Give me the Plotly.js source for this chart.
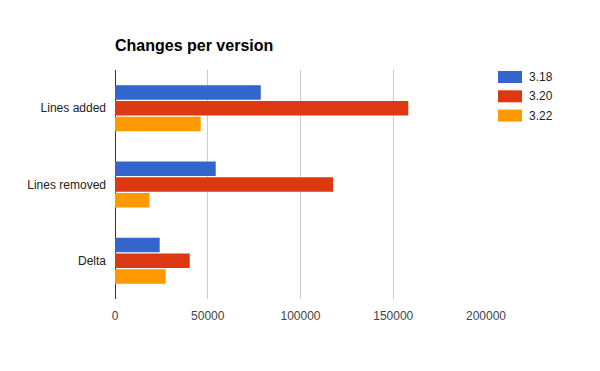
<!DOCTYPE html>
<html>
<head>
<meta charset="utf-8">
<script src="https://cdn.plot.ly/plotly-3.0.1.min.js"></script>
<style>html,body{margin:0;padding:0;background:#fff;}#chart{width:600px;height:371px;}</style>
</head>
<body>
<div id="chart"></div>
<script>
const categories = ["Lines added", "Lines removed", "Delta"];
const seriesNames = ["3.18", "3.20", "3.22"];
const v318 = [78600, 54300, 24100];
const v320 = [158100, 117600, 40300];
const v322 = [46200, 18600, 27300];
const colors = ["#3366cc", "#dc3912", "#ff9900"];
const xTicks = [0, 50000, 100000, 150000, 200000];

const seriesValues = [v318, v320, v322];
const traces = seriesValues.map((vals, i) => ({
  type: "bar",
  orientation: "h",
  name: seriesNames[i],
  y: categories,
  x: vals,
  marker: {color: colors[i]},
  hoverinfo: "none"
}));

const font = {family: "Liberation Sans, Arial, sans-serif", size: 12, color: "#222"};
const shapes = [];
const annotations = [];
const rowStep = 19.3 / 229;
seriesNames.forEach((n, i) => {
  const top = (299 - 71) / 229 - i * rowStep;
  const bot = (299 - 83) / 229 - i * rowStep;
  shapes.push({type: "rect", xref: "paper", yref: "paper",
    x0: (498 - 115) / 371, x1: (522 - 115) / 371, y0: bot, y1: top,
    fillcolor: colors[i], line: {width: 0}});
  annotations.push({xref: "paper", yref: "paper", x: (527 - 115) / 371, y: (top + bot) / 2,
    text: n, showarrow: false, xanchor: "left", yanchor: "middle",
    font: {family: font.family, size: 12, color: "#222"}});
});

const layout = {
  width: 600, height: 371,
  margin: {l: 115, r: 114, t: 70, b: 72, pad: 0},
  paper_bgcolor: "#fff", plot_bgcolor: "#fff",
  font: font,
  title: {text: "<b>Changes per version</b>", x: 115 / 600, xanchor: "left", y: 1 - 45 / 371, yanchor: "middle",
    font: {family: font.family, size: 16, color: "#000"}},
  barmode: "group",
  bargap: 0.38,
  bargroupgap: 0.08,
  showlegend: false,
  xaxis: {
    range: [0, 200000],
    tickvals: xTicks,
    ticktext: xTicks.map(String),
    showgrid: true, gridcolor: "#cccccc", gridwidth: 1,
    zeroline: true, zerolinecolor: "#333333", zerolinewidth: 1,
    showline: false, ticks: "",
    tickfont: {family: font.family, size: 12, color: "#444"},
    ticklabelstandoff: 8,
    fixedrange: true
  },
  yaxis: {
    autorange: "reversed",
    type: "category",
    showgrid: false, zeroline: false, showline: false, ticks: "",
    tickfont: {family: font.family, size: 12, color: "#222"},
    ticklabelstandoff: 8,
    fixedrange: true
  },
  shapes: shapes,
  annotations: annotations
};

Plotly.newPlot("chart", traces, layout, {displayModeBar: false, staticPlot: true});
</script>
</body>
</html>
